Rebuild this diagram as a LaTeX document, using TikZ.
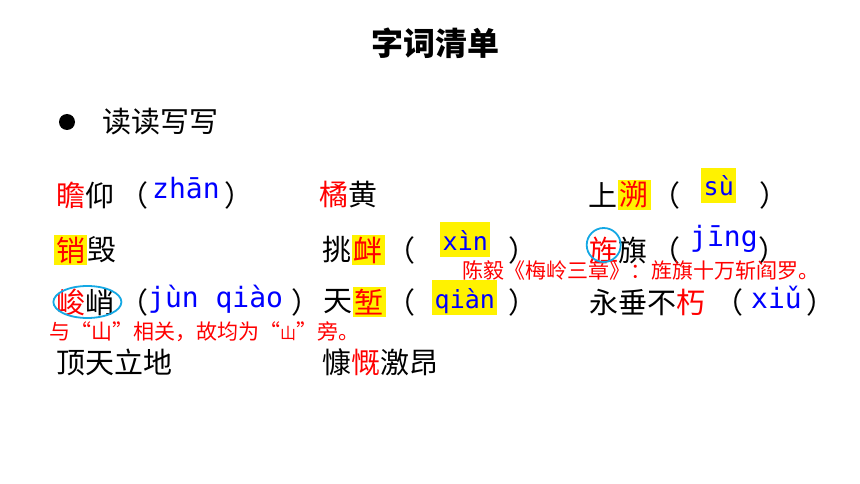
\documentclass[tikz,border=0pt]{standalone}
\usepackage{fontspec}
\newfontfamily\cjk{Noto Sans CJK SC}
\newfontfamily\py{DejaVu Sans Mono}
\usetikzlibrary{positioning}
\definecolor{ringblue}{RGB}{20,168,228}

\begin{document}
\begin{tikzpicture}[x=1pt,y=-1pt,inner sep=0pt,
	word/.style={anchor=west,font=\cjk\fontsize{29}{30}\selectfont},
	hl/.style={word,fill=yellow,text=red,inner sep=2pt},
	pin/.style={anchor=base west,text=blue,font=\py\fontsize{28}{30}\selectfont},
	pinbox/.style={pin,font=\py\fontsize{25}{27}\selectfont,fill=yellow,inner xsep=2.5pt,inner ysep=2pt,text height=26pt,text depth=5pt},
	note/.style={anchor=west,text=red,font=\cjk\fontsize{21}{22}\selectfont},
	ring/.style={draw=ringblue,line width=1.8pt}]
	     \useasboundingbox[fill=white] (0,0) rectangle (860,484);
	     \node[font=\cjk\bfseries\fontsize{32}{34}\selectfont] (title) at (435,43) {字词清单};
	     \node[circle,fill,minimum size=16pt] (dot) at (67,122) {};
	     \node[word] (duxie) at (102,122) {读读写写};

	     \node[word] (zhan) at (56,195) {\textcolor{red}{瞻}仰};
	     \node[word] (lpa) at (119,195) {（};
	     \node[pin] (zhanpy) at (152,198) {zhān};
	     \node[word] (rpa) at (224,195) {）};
	     \node[word] (ju) at (319,195) {\textcolor{red}{橘}黄};
	     \node[word] (shang) at (588,195) {上};
	     \node[hl] (su) [right=0pt of shang] {溯};
	     \node[word] (lpb) at (651,195) {（};
	     \node[pinbox] (supy) at (701,196) {sù};
	     \node[word] (rpb) at (759,195) {）};

	     \node[hl] (xiao) at (54,250) {销};
	     \node[word] (hui) [right=0pt of xiao] {毁};
	     \node[word] (tiao) at (322,250) {挑};
	     \node[hl] (xin) [right=0pt of tiao] {衅};
	     \node[word] (lpc) at (386,250) {（};
	     \node[pinbox] (xinpy) at (440,250) {xìn};
	     \node[word] (rpc) at (508,250) {）};
	     \node[word,text=red] (jing) at (589,250) {旌};
	     \node[word] (qi) [right=0pt of jing] {旗};
	     \node[word] (lpd) at (651,250) {（};
	     \node[pin] (jingpy) at (690,247) {jīng};
	     \node[word] (rpd) at (758,250) {）};
	     \node[note] (noteA) at (462,270) {陈毅《梅岭三章》：旌旗十万斩阎罗。};

	     \node[word,text=red] (jun) at (56,302) {峻};
	     \node[word] (qiao) [right=0pt of jun] {峭};
	     \node[word] (lpe) at (119,302) {（};
	     \node[pin] (junpy) at (148,307) {jùn qiào};
	     \node[word] (rpe) at (291,302) {）};
	     \node[word] (tian) at (323,302) {天};
	     \node[hl] (qian) [right=0pt of tian] {堑};
	     \node[word] (lpf) at (386,302) {（};
	     \node[pinbox] (qianpy) at (432,308) {qiàn};
	     \node[word] (rpf) at (508,302) {）};
	     \node[word] (yong) at (589,302) {永垂不\textcolor{red}{朽}};
	     \node[word] (lpg) at (714,302) {（};
	     \node[pin] (xiupy) at (751,308) {xiǔ};
	     \node[word] (rpg) at (806,302) {）};
	     \node[note] (noteB) at (49,332) {与“山”相关，故均为“{\fontsize{16}{16}\selectfont 山}”旁。};

	     \node[word] (ding) at (56,362) {顶天立地};
	     \node[word] (kang) at (322,362) {慷\textcolor{red}{慨}激昂};

	     \draw[ring] ([xshift=2pt]jun.east) ellipse [x radius=34pt,y radius=16pt];
	     \draw[ring] ([yshift=5pt]jing.center) circle [radius=17pt];
\end{tikzpicture}
\end{document}
